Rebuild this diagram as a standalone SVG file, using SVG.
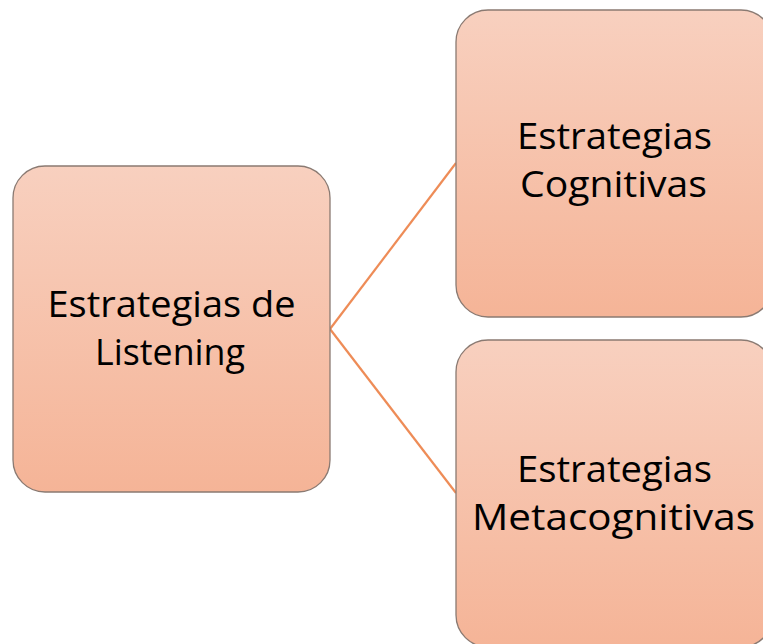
<svg xmlns="http://www.w3.org/2000/svg" width="763" height="644" viewBox="0 0 763 644">
  <defs>
    <linearGradient id="fill" x1="0" y1="0" x2="0" y2="1">
      <stop offset="0" stop-color="#f8d0bf"/>
      <stop offset="1" stop-color="#f5b497"/>
    </linearGradient>
    <style>
      .box { fill: url(#fill); stroke: #8a7a72; stroke-width: 1.3; }
      .label { font-family: "Open Sans", "Noto Sans", "Liberation Sans", sans-serif; font-size: 36px; fill: #000; text-anchor: middle; }
      .conn { stroke: #ee8c57; stroke-width: 2.2; fill: none; }
    </style>
  </defs>
  <rect width="763" height="644" fill="#ffffff"/>
  <g id="connectors">
    <line class="conn" x1="330" y1="329" x2="456" y2="163"/>
    <line class="conn" x1="330" y1="329" x2="456" y2="493"/>
  </g>
  <g id="node-listening">
    <rect class="box" x="13" y="166" width="317" height="326" rx="32" ry="32"/>
    <text class="label" x="171.5" y="317" textLength="248" lengthAdjust="spacingAndGlyphs">Estrategias de</text>
    <text class="label" x="170" y="365" textLength="150" lengthAdjust="spacingAndGlyphs">Listening</text>
  </g>
  <g id="node-cognitivas">
    <rect class="box" x="456" y="10" width="317" height="307" rx="32" ry="32"/>
    <text class="label" x="614.5" y="149" textLength="195" lengthAdjust="spacingAndGlyphs">Estrategias</text>
    <text class="label" x="613.5" y="197" textLength="187" lengthAdjust="spacingAndGlyphs">Cognitivas</text>
  </g>
  <g id="node-metacognitivas">
    <rect class="box" x="456" y="340" width="317" height="307" rx="32" ry="32"/>
    <text class="label" x="614.5" y="482" textLength="195" lengthAdjust="spacingAndGlyphs">Estrategias</text>
    <text class="label" x="613.5" y="530" textLength="283" lengthAdjust="spacingAndGlyphs">Metacognitivas</text>
  </g>
</svg>
